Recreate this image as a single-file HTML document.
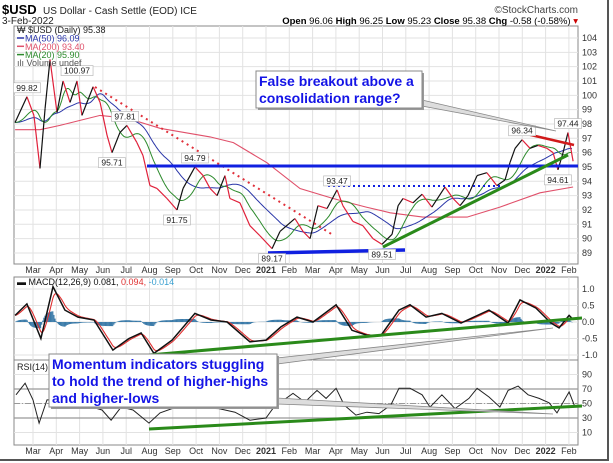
<!DOCTYPE html>
<html><head><meta charset="utf-8"><style>
body{margin:0;background:#fff;}
svg{display:block;font-family:"Liberation Sans",Arial,sans-serif;}
</style></head><body>
<svg id="c" width="613" height="463" viewBox="0 0 613 463"></svg>
<script>
// ---- data ----
const months = ["Mar","Apr","May","Jun","Jul","Aug","Sep","Oct","Nov","Dec","2021","Feb","Mar","Apr","May","Jun","Jul","Aug","Sep","Oct","Nov","Dec","2022","Feb"];
const priceT = [-0.77,-0.26,0.04,0.30,0.52,0.73,1.03,1.29,1.59,1.89,2.10,2.58,2.88,3.18,3.39,3.73,4.03,4.46,4.72,5.02,5.32,5.75,6.18,6.44,6.95,7.30,7.60,7.90,8.24,8.45,8.88,9.31,9.74,10.26,10.60,11.24,11.59,11.89,12.23,12.62,13.05,13.30,13.73,14.16,14.59,14.98,15.41,15.67,15.88,16.31,16.70,17.12,17.68,18.03,18.33,18.67,19.06,19.48,19.91,20.26,20.47,20.69,20.99,21.33,21.67,22.06,22.32,22.53,22.75,22.96,23.18];
const priceV = [98.1,99.9,98.6,94.9,99.1,102.5,98.8,101,99.5,101,98.6,100.6,99.5,97.2,96.0,97.4,97.9,96.7,95.8,93.7,93.5,92.8,92.0,93.5,95.0,94.4,93.5,93.0,94.4,92.8,92.5,90.9,90.2,89.3,90.5,91.4,90.5,90.0,92.3,92.1,93.4,92.3,91.2,90.9,90.0,89.6,90.3,92.3,92.8,92.5,93.1,92.2,93.6,92.8,92.3,93.0,94.4,94.6,93.7,94.1,95.3,96.3,96.9,96.3,96.5,96.3,96.0,94.8,96.0,97.4,95.4];
const ma200T = [-0.77,0.3,1.16,2.88,4.03,5.45,7.6,8.6,10.04,11.46,12.88,14.3,15.33,16.73,18.63,20.04,21.76,23.18];
const ma200V = [97.6,97.6,97.9,98.6,98.4,97.7,97.1,96.7,95.3,93.5,92.8,92.2,91.8,91.5,91.5,92.2,93.2,93.6];
const macdT = [-0.77,-0.26,0.34,0.86,1.37,1.93,2.62,3.43,4.12,4.64,5.19,5.97,6.95,7.64,8.33,9.31,10.0,10.64,11.33,12.02,13.01,13.69,14.33,14.94,15.71,16.18,16.87,17.55,18.37,19.57,20.39,20.9,21.59,22.23,22.58,23.01,23.18];
const macdV = [0.2,0.55,-0.5,1.07,0.36,0.15,0.06,-0.85,-0.5,-0.33,-0.95,-0.55,0.26,0.06,0,-0.6,-0.55,-0.15,0.15,0,0.52,-0.25,-0.4,-0.4,0.36,0.52,0.15,0.26,-0.03,0.36,-0.03,0.67,0.42,-0.03,-0.18,0.2,0.08];
const rsiT = [-0.73,-0.34,0,0.26,0.6,1.16,2.02,2.96,3.35,3.78,4.29,4.98,5.45,6.14,7.98,8.67,9.31,10.0,10.34,11.16,11.67,12.19,12.58,13.01,13.35,13.86,14.33,14.85,15.36,15.71,16.18,16.7,17.04,17.55,18.11,18.71,19.06,19.57,20.04,20.39,20.82,21.25,21.72,22.15,22.49,23.01,23.26];
const rsiV = [62,78,55,23,55,55,50,41,27,45,41,23,37,45,43,38,27,30,45,64,52,68,57,71,48,34,38,36,48,71,71,62,45,62,43,57,71,59,45,68,74,62,57,51,37,66,45];
const yTicks = [89,90,91,92,93,94,95,96,97,98,99,100,101,102,103,104];
const macdTicks = [1.0,0.5,0.0,-0.5,-1.0];
const rsiTicks = [90,70,50,30,10];
const peakLabels = ["99.82","100.97","97.81","95.71","94.79","91.75","89.17","93.47","89.51","96.34","97.44","94.61"];
const peakT = [-0.26,1.89,3.95,3.39,6.95,6.18,10.26,13.05,14.98,20.99,22.96,22.53];
const peakV = [99.9,101.1,97.9,96.0,95.0,92.0,89.3,93.4,89.6,96.9,97.4,94.8];

// ---- scales ----
const L=14,R=578;
const X=t=>33+t*23.3;
const Y=p=>38+(104-p)*14.33;
const YM=v=>322-v*33;
const YR=v=>389-(v-70)*0.725;
const svg=document.getElementById('c');
const NS="http://www.w3.org/2000/svg";
function mk(tag,attrs,parent){const e=document.createElementNS(NS,tag);for(const k in attrs)e.setAttribute(k,attrs[k]);(parent||svg).appendChild(e);return e;}
function txt(s,x,y,attrs,parent){const e=mk('text',Object.assign({x:x,y:y},attrs),parent);e.textContent=s;return e;}
function interp(ts,vs,t){if(t<=ts[0])return vs[0];for(let i=1;i<ts.length;i++){if(t<=ts[i]){const f=(t-ts[i-1])/(ts[i]-ts[i-1]);return vs[i-1]+f*(vs[i]-vs[i-1]);}}return vs[vs.length-1];}
function pts(ts,vs,fx,fy){return ts.map((t,i)=>fx(t).toFixed(1)+","+fy(vs[i]).toFixed(1)).join(" ");}

// ---- header ----
const hdr=mk('g',{});


const t1=txt("$USD",2,14,{'font-size':13,'font-weight':'bold',fill:'#000'},hdr);

txt("US Dollar - Cash Settle (EOD) ICE",43,14,{'font-size':10,fill:'#222'},hdr);
txt("3-Feb-2022",2,24,{'font-size':10,fill:'#222'},hdr);
txt("©StockCharts.com",578,13,{'font-size':10,fill:'#444','text-anchor':'end'},hdr);
const ohlc=mk('text',{x:578,y:24,'font-size':9.5,'text-anchor':'end',fill:'#000'},hdr);
ohlc.innerHTML='<tspan font-weight="bold">Open</tspan> 96.06 <tspan font-weight="bold">High</tspan> 96.25 <tspan font-weight="bold">Low</tspan> 95.23 <tspan font-weight="bold">Close</tspan> 95.38 <tspan font-weight="bold">Chg</tspan> -0.58 (-0.58%) <tspan fill="#c00">▾</tspan>';


// ---- panels ----
const panels=[[26,264,'price-panel'],[277,360,'macd-panel'],[360,445,'rsi-panel']];
panels.forEach(p=>{const r=mk('rect',{x:L,y:p[0],width:R-L,height:p[1]-p[0],fill:'#fff',stroke:'#888','stroke-width':1});
});
const grid=mk('g',{stroke:'#e2e2e2','stroke-width':1});

months.forEach((m,i)=>{const x=X(i);panels.forEach(p=>mk('line',{x1:x,x2:x,y1:p[0],y2:p[1]},grid));});
yTicks.forEach(v=>{mk('line',{x1:L,x2:R,y1:Y(v),y2:Y(v)},grid);});
macdTicks.forEach(v=>mk('line',{x1:L,x2:R,y1:YM(v),y2:YM(v)},grid));
rsiTicks.forEach(v=>mk('line',{x1:L,x2:R,y1:YR(v),y2:YR(v)},grid));
const ax=mk('g',{'font-size':9,fill:'#333'});

yTicks.forEach(v=>txt(String(v),582,Y(v)+3,{},ax));
macdTicks.forEach(v=>txt(v.toFixed(1),582,YM(v)+3,{},ax));
rsiTicks.forEach(v=>txt(String(v),582,YR(v)+3,{},ax));
const xa=mk('g',{'font-size':9,fill:'#333','text-anchor':'middle'});

months.forEach((m,i)=>{const b=(m=="2021"||m=="2022")?'bold':'normal';txt(m,X(i),273,{'font-weight':b},xa);txt(m,X(i),454,{'font-weight':b},xa);});

// ---- derived daily series ----
const step=1/21,t0=-0.77,t1e=23.18;const days=[];for(let t=t0;t<=t1e+1e-6;t+=step)days.push(t);
const daily=days.map(t=>interp(priceT,priceV,t));
function sma(n){return daily.map((_,i)=>{let s=0;for(let k=0;k<n;k++)s+=daily[Math.max(0,i-k)];return s/n;});}
const ma20=sma(20),ma50=sma(50);
const m200=mk('polyline',{points:pts(ma200T,ma200V,X,Y),fill:'none',stroke:'#e0506a','stroke-width':1.1});

const m50=mk('polyline',{points:pts(days,ma50,X,Y),fill:'none',stroke:'#2a36a8','stroke-width':1});

const m20=mk('polyline',{points:pts(days,ma20,X,Y),fill:'none',stroke:'#2c8a2c','stroke-width':1});

const pg=mk('g',{'stroke-width':1.2,fill:'none'});

for(let i=1;i<priceT.length;i++){const up=priceV[i]>=priceV[i-1];
 const l=mk('line',{x1:X(priceT[i-1]),y1:Y(priceV[i-1]),x2:X(priceT[i]),y2:Y(priceV[i]),stroke:up?'#111':'#e0203a'},pg);
 }

function line(n,x1,y1,x2,y2,st,w,dash){const l=mk('line',{x1,y1,x2,y2,stroke:st,'stroke-width':w});if(dash)l.setAttribute('stroke-dasharray',dash);return l;}
line('downtrend-dotted-line',95,87,333,235,'#e0303a',2,'2,4');
line('resistance-line',147,166,578,166,'#1020e0',3);
line('range-dotted-line',328,186,503,186,'#1020e0',2,'2,3');
line('bottom-support-line',268,253,405,250,'#1020e0',3.5);
line('uptrend-line',383,247,568,155,'#2a8a1a',3);
line('consolidation-top-line',518,132,574,145,'#d01a1a',2.5);

const pl=mk('g',{'font-size':8.5,fill:'#222'});

peakLabels.forEach((s,i)=>{const x=X(peakT[i]);const low=(s=="95.71"||s=="91.75"||s=="89.17"||s=="89.51"||s=="94.61");
 const y=low?Y(peakV[i])+13:Y(peakV[i])-6;const w=s.length*5;
 mk('rect',{x:x-w/2-1,y:y-8,width:w+2,height:10,fill:'#fff',stroke:'#bbb','stroke-width':0.7},pl);
 txt(s,x,y,{'text-anchor':'middle'},pl);});

const lg=mk('g',{'font-size':9});

txt("₩ $USD (Daily) 95.38",17,33,{fill:'#222'},lg);
[["MA(50) 96.09",'#2a36a8'],["MA(200) 93.40",'#e0506a'],["MA(20) 95.90",'#2c8a2c']].forEach((a,i)=>{mk('line',{x1:17,x2:24,y1:38+i*8.3,y2:38+i*8.3,stroke:a[1],'stroke-width':1.5},lg);txt(a[0],25,41.5+i*8.3,{fill:a[1]},lg);});
txt("ılı Volume undef",17,66,{fill:'#555'},lg);

// ---- MACD ----
const mdaily=days.map(t=>interp(macdT,macdV,t));
const sig=[];let e=mdaily[0];const k=0.3;mdaily.forEach(v=>{e=v*k+e*(1-k);sig.push(e);});
const hg=mk('g',{stroke:'#3a7aa8','stroke-width':1.2});

mdaily.forEach((v,i)=>{const h=(v-sig[i]);mk('line',{x1:X(days[i]),x2:X(days[i]),y1:YM(0),y2:YM(h)},hg);});
const sl=mk('polyline',{points:pts(days,sig,X,YM),fill:'none',stroke:'#e03030','stroke-width':1.1});

const ml=mk('polyline',{points:pts(macdT,macdV,X,YM),fill:'none',stroke:'#111','stroke-width':1.5});

const mlg=mk('text',{x:17,y:285,'font-size':9},svg);
mlg.innerHTML='<tspan fill="#111">▬ MACD(12,26,9) 0.081, </tspan><tspan fill="#e03030">0.094, </tspan><tspan fill="#3aa0d0">-0.014</tspan>';

line('macd-trend-line',149,355,582,318,'#2a8a1a',3);

// ---- RSI ----
line('rsi-70-line',L,YR(70),R,YR(70),'#999',1.2);
line('rsi-30-line',L,YR(30),R,YR(30),'#999',1.2);
line('rsi-50-line',L,YR(50),R,YR(50),'#999',1,'6,2,1,2');
const rl=mk('polyline',{points:pts(rsiT,rsiV,X,YR),fill:'none',stroke:'#222','stroke-width':1});

txt("RSI(14)",17,370,{'font-size':9,fill:'#222'});
line('rsi-trend-line',149,429,582,406,'#2a8a1a',3);

// ---- callouts ----
function wedge(n,x1,y1,x2,y2,x3,y3){const p=mk('polygon',{points:`${x1},${y1} ${x2},${y2} ${x3},${y3}`,fill:'#ddd',stroke:'#888','stroke-width':0.8});}
wedge('callout1-pointer',422,100,422,106,556,131);
wedge('callout2-pointer-macd',277,358,277,364,553,328);
wedge('callout2-pointer-rsi',277,398,277,404,553,414);
function box(n,x,y,w,h,lines,fs){const g=mk('g',{});
 mk('rect',{x:x+2,y:y+2,width:w,height:h,fill:'#999'},g);
 mk('rect',{x,y,width:w,height:h,fill:'#fff',stroke:'#888','stroke-width':1},g);
 lines.forEach((s,i)=>txt(s,x+3,y+fs+1+i*(fs+3),{'font-size':fs,'font-weight':'bold',fill:'#1414e6'},g));}
box('callout-false-breakout',256,71,166,37,["False breakout above a","consolidation range?"],14);
box('callout-momentum',49,354,228,53,["Momentum indicators stuggling","to hold the trend of higher-highs","and higher-lows"],14);

line('frame-bottom',0,460,609,460,'#555',2);
line('frame-right',608,0,608,460,'#555',2);
</script>
</body></html>
